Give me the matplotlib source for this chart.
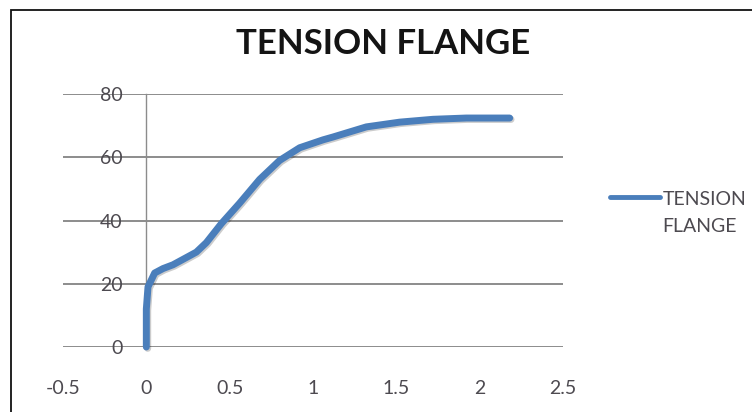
import matplotlib
matplotlib.use("Agg")
import numpy as np
import matplotlib.pyplot as plt
import matplotlib.patheffects as pe
from matplotlib.patches import Rectangle
from matplotlib.legend_handler import HandlerLine2D

# Load-deflection readings for the tension flange
deflection = [0.0, 0.0, 0.01, 0.05, 0.10, 0.16, 0.23, 0.30, 0.36, 0.45, 0.56,
              0.68, 0.80, 0.92, 1.06, 1.12, 1.32, 1.52, 1.72, 1.92, 2.18]
load = [0.0, 12.0, 19.0, 23.4, 24.8, 26.0, 28.0, 30.0, 33.0, 39.0, 45.5,
        53.0, 59.0, 63.0, 65.5, 66.4, 69.6, 71.1, 72.0, 72.4, 72.4]
series_name = "TENSION\nFLANGE"
chart_title = "TENSION FLANGE"
x_ticks = [-0.5, 0, 0.5, 1, 1.5, 2, 2.5]
x_labels = ["-0.5", "0", "0.5", "1", "1.5", "2", "2.5"]
y_ticks = [0, 20, 40, 60, 80]


class FirstLineHandler(HandlerLine2D):
    """Legend handle drawn level with the first line of a two-line label."""

    def __init__(self, shift, **kw):
        super().__init__(**kw)
        self.shift = shift

    def create_artists(self, legend, orig_handle, xdescent, ydescent, width,
                       height, fontsize, trans):
        arts = super().create_artists(legend, orig_handle, xdescent, ydescent,
                                      width, height, fontsize, trans)
        for a in arts:
            a.set_ydata(np.asarray(a.get_ydata()) + self.shift)
        return arts


plt.rcParams["font.family"] = ["Lato", "DejaVu Sans"]

fig = plt.figure(figsize=(7.52, 4.12), dpi=100)
fig.patch.set_facecolor("white")
ax = fig.add_axes([63 / 752, 65 / 412, 500 / 752, 253 / 412])

line_color = "#4A7EBB"
curve, = ax.plot(deflection, load, color=line_color, lw=5.0,
                 solid_capstyle="round", solid_joinstyle="round",
                 clip_on=False, zorder=5, label=series_name,
                 path_effects=[pe.SimpleLineShadow(offset=(1.0, -1.0),
                                                   alpha=0.2),
                               pe.Normal()])

ax.set_xlim(-0.5, 2.5)
ax.set_ylim(0, 80)
ax.set_xticks(x_ticks)
ax.set_xticklabels(x_labels)
ax.set_yticks(y_ticks)

grid_color = "#8C8C8C"
ax.yaxis.grid(True, color=grid_color, lw=1.4)
ax.xaxis.grid(False)
ax.set_axisbelow(True)

for side in ("top", "right", "bottom"):
    ax.spines[side].set_visible(False)
ax.spines["left"].set_position(("data", 0))
ax.spines["left"].set_color("#8C8C8C")
ax.spines["left"].set_linewidth(1.0)

label_color = "#4D4A50"
ax.tick_params(axis="y", length=0, pad=17, labelsize=14, labelcolor=label_color)
ax.tick_params(axis="x", length=0, pad=24, labelsize=14, labelcolor=label_color)

fig.text(383 / 752, 1 - 44 / 412, chart_title, ha="center", va="center",
         fontsize=25, fontweight="bold", color="#141414")

leg = ax.legend(loc="center left", bbox_to_anchor=(602 / 752, 1 - 213 / 412),
                bbox_transform=fig.transFigure, frameon=False, fontsize=14,
                handlelength=2.6, handletextpad=0.1, borderaxespad=0,
                handler_map={curve: FirstLineHandler(shift=12)})
for t in leg.get_texts():
    t.set_color(label_color)
    t.set_linespacing(1.75)
for h in leg.get_lines():
    h.set_linewidth(3.5)
    h.set_path_effects([])

# Outer frame running off the right and bottom edges
fig.add_artist(Rectangle((11 / 752, -0.2), 1.2, 1.2 - 10 / 412,
                         transform=fig.transFigure, fill=False,
                         edgecolor="#111111", lw=1.3))

fig.savefig("out.png", dpi=100)
